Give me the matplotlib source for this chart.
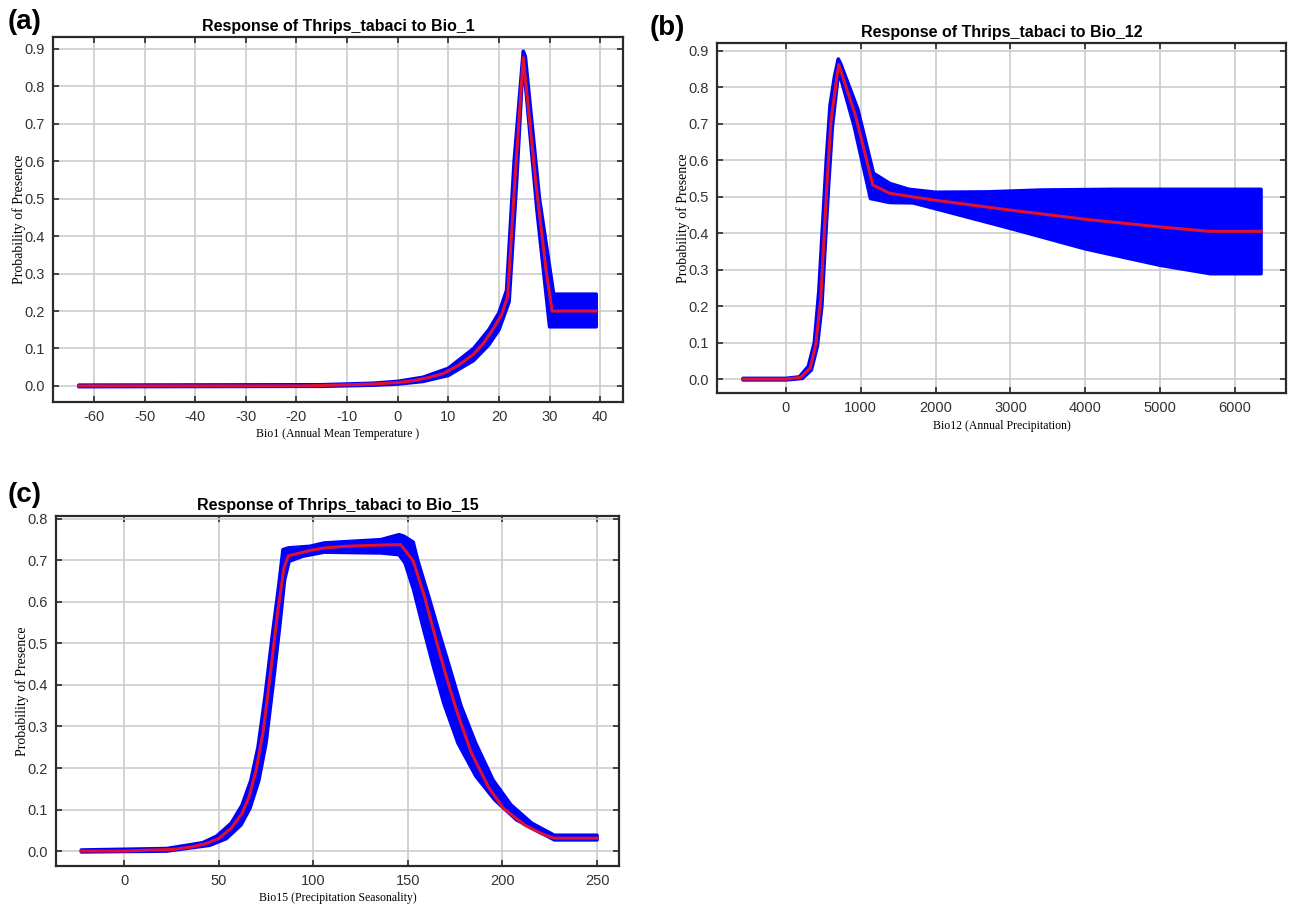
import matplotlib
matplotlib.use("Agg")
import matplotlib.pyplot as plt

plt.rcParams["axes.unicode_minus"] = False

# ---------------- data ----------------
# Panel (a): Bio_1
a_mean_x = [-63, -20, -15, -10, -5, 0, 3, 6, 9, 12, 15, 17, 19, 20.5, 21.7, 23.2, 24.8, 27.3, 29.3, 30.5, 39.2]
a_mean_y = [0, 0, 0.001, 0.003, 0.005, 0.009, 0.014, 0.022, 0.033, 0.055, 0.085, 0.115, 0.155, 0.19, 0.238, 0.56, 0.877, 0.54, 0.31, 0.2, 0.2]
a_up_x = [-63, -15, -5, 0, 5, 10, 15, 18, 20, 21.5, 23, 24.8, 25.2, 28, 30.8, 39.2]
a_up_y = [0.002, 0.003, 0.007, 0.012, 0.023, 0.047, 0.1, 0.15, 0.195, 0.255, 0.6, 0.894, 0.88, 0.5, 0.245, 0.245]
a_lo_x = [-63, -15, -5, 0, 5, 10, 15, 18, 20, 22, 23.5, 24.7, 25, 27.5, 30.0, 39.2]
a_lo_y = [-0.002, -0.001, 0.002, 0.005, 0.012, 0.028, 0.068, 0.11, 0.15, 0.225, 0.55, 0.85, 0.84, 0.47, 0.158, 0.158]
a_xticks = [-60, -50, -40, -30, -20, -10, 0, 10, 20, 30, 40]

# Panel (b): Bio_12
b_mean_x = [-573, 0, 198, 324, 400, 466, 502, 552, 603, 705, 933, 1161, 1389, 2000, 3000, 4000, 5000, 5646, 6346]
b_mean_y = [0, 0, 0.005, 0.03, 0.096, 0.22, 0.36, 0.545, 0.71, 0.862, 0.72, 0.532, 0.509, 0.49, 0.463, 0.438, 0.417, 0.405, 0.405]
b_up_x = [-573, 0, 180, 300, 380, 440, 490, 540, 590, 650, 700, 730, 960, 1170, 1389, 1643, 2000, 2700, 3400, 4380, 6346]
b_up_y = [0.002, 0.002, 0.006, 0.035, 0.1, 0.24, 0.42, 0.6, 0.75, 0.83, 0.877, 0.865, 0.74, 0.564, 0.536, 0.52, 0.512, 0.513, 0.518, 0.52, 0.52]
b_lo_x = [-573, 0, 220, 340, 420, 480, 520, 570, 620, 705, 910, 1130, 1389, 1700, 2000, 3000, 4000, 5000, 5670, 6346]
b_lo_y = [-0.002, -0.002, 0.002, 0.025, 0.09, 0.2, 0.35, 0.53, 0.69, 0.845, 0.695, 0.495, 0.484, 0.483, 0.467, 0.413, 0.357, 0.312, 0.289, 0.289]
b_xticks = [0, 1000, 2000, 3000, 4000, 5000, 6000]

# Panel (c): Bio_15
c_mean_x = [-22.6, 0, 11.3, 26.4, 35.8, 43.4, 50, 56.6, 62.3, 66, 69.8, 73.6, 77.4, 81.1, 84.5, 86.8, 98.3, 105.9, 117, 135.8, 146.2,
            152.8, 158.8, 164.4, 170.3, 176.2, 183.6, 193, 200.5, 211.6, 221, 227.4, 250]
c_mean_y = [0, 0, 0.002, 0.004, 0.01, 0.018, 0.03, 0.055, 0.09, 0.13, 0.195, 0.29, 0.43, 0.573, 0.682, 0.711, 0.724, 0.73, 0.734, 0.737, 0.738,
            0.699, 0.613, 0.517, 0.42, 0.332, 0.236, 0.151, 0.103, 0.063, 0.041, 0.031, 0.031]
c_up_x = [-22.6, 22.6, 41.5, 49, 56.6, 62.3, 67, 70.8, 74.5, 78.3, 81.5, 84, 86.8, 98.3, 105.7, 135.8, 145.3, 148, 152.8,
          155.2, 161, 166.6, 172.4, 178.2, 185.8, 195, 204.5, 215.5, 227.4, 250]
c_up_y = [0.0025, 0.006, 0.02, 0.036, 0.067, 0.11, 0.17, 0.25, 0.372, 0.517, 0.63, 0.726, 0.73, 0.734, 0.742, 0.75, 0.762, 0.758, 0.744,
          0.70, 0.613, 0.525, 0.437, 0.348, 0.26, 0.171, 0.111, 0.067, 0.038, 0.038]
c_lo_x = [-22.6, 22.6, 45.3, 54, 61.8, 66.5, 71.2, 75, 78.6, 82.2, 84.8, 87.2, 94.3, 105.7, 135.8, 145.3, 148.5,
          153, 158, 163.5, 169, 176.5, 186, 196, 207.5, 227.4, 250]
c_lo_y = [-0.002, 0.0, 0.014, 0.03, 0.063, 0.103, 0.17, 0.26, 0.396, 0.54, 0.653, 0.698, 0.71, 0.72, 0.718, 0.714, 0.694,
          0.63, 0.54, 0.445, 0.356, 0.26, 0.18, 0.123, 0.075, 0.027, 0.027]
c_xticks = [0, 50, 100, 150, 200, 250]

titles = ["Response of Thrips_tabaci to Bio_1",
          "Response of Thrips_tabaci to Bio_12",
          "Response of Thrips_tabaci to Bio_15"]
xlabels = ["Bio1 (Annual Mean Temperature )",
           "Bio12 (Annual Precipitation)",
           "Bio15 (Precipitation Seasonality)"]
ylabel = "Probability of Presence"
panel_labels = ["(a)", "(b)", "(c)"]

# ---------------- drawing ----------------
W, H = 1295, 908
fig = plt.figure(figsize=(W / 100, H / 100), dpi=100)

def rect(l, t, r, b):
    return [l / W, 1 - b / H, (r - l) / W, (b - t) / H]

BLUE = "#0000ff"
RED = "#e01030"
SANS = ["Liberation Sans", "DejaVu Sans"]
SERIF = ["Liberation Serif", "DejaVu Serif"]

def panel(pos, mx, my, ux, uy, lx, ly, xticks, yticks, xlim, ylim, title, xlabel):
    ax = fig.add_axes(pos)
    poly_x = list(ux) + list(lx)[::-1]
    poly_y = list(uy) + list(ly)[::-1]
    ax.fill(poly_x, poly_y, color=BLUE, lw=2.6, ec=BLUE, zorder=2, joinstyle="round")
    ax.plot(mx, my, color=RED, lw=2.2, zorder=3, solid_joinstyle="round")
    ax.set_xlim(*xlim)
    ax.set_ylim(*ylim)
    ax.set_xticks(xticks)
    ax.set_yticks(yticks)
    ax.set_yticklabels([f"{v:.1f}" for v in yticks])
    ax.grid(True, color="#cccccc", lw=1.2, zorder=0)
    ax.set_axisbelow(True)
    for s in ax.spines.values():
        s.set_color("#2a2a2a")
        s.set_linewidth(1.6)
    ax.tick_params(direction="in", length=4, width=1.2, top=True, right=True,
                   colors="#2a2a2a", labelcolor="#333333", labelsize=10.5, pad=6)
    for lab in ax.get_xticklabels() + ax.get_yticklabels():
        lab.set_fontfamily(SANS)
    ax.set_title(title, fontsize=11.5, fontweight="bold", family=SANS, pad=4)
    ax.set_xlabel(xlabel, fontsize=8.5, family=SERIF, labelpad=3)
    ax.set_ylabel(ylabel, fontsize=10, family=SERIF, labelpad=-1)
    return ax

yt9 = [0.0, 0.1, 0.2, 0.3, 0.4, 0.5, 0.6, 0.7, 0.8, 0.9]
yt8 = [0.0, 0.1, 0.2, 0.3, 0.4, 0.5, 0.6, 0.7, 0.8]

panel(rect(53, 37, 623, 402), a_mean_x, a_mean_y, a_up_x, a_up_y, a_lo_x, a_lo_y,
      a_xticks, yt9, (-68.1, 44.5), (-0.043, 0.932), titles[0], xlabels[0])
panel(rect(717, 43, 1286, 393), b_mean_x, b_mean_y, b_up_x, b_up_y, b_lo_x, b_lo_y,
      b_xticks, yt9, (-920, 6680), (-0.038, 0.921), titles[1], xlabels[1])
panel(rect(56, 516, 619, 866), c_mean_x, c_mean_y, c_up_x, c_up_y, c_lo_x, c_lo_y,
      c_xticks, yt8, (-36, 261.6), (-0.036, 0.807), titles[2], xlabels[2])

fig.text(8 / W, 1 - 22 / H, panel_labels[0], fontsize=20, fontweight="bold", family=SANS, va="center", ha="left")
fig.text(650 / W, 1 - 28 / H, panel_labels[1], fontsize=20, fontweight="bold", family=SANS, va="center", ha="left")
fig.text(8 / W, 1 - 495 / H, panel_labels[2], fontsize=20, fontweight="bold", family=SANS, va="center", ha="left")

fig.savefig("out.png", dpi=100)
